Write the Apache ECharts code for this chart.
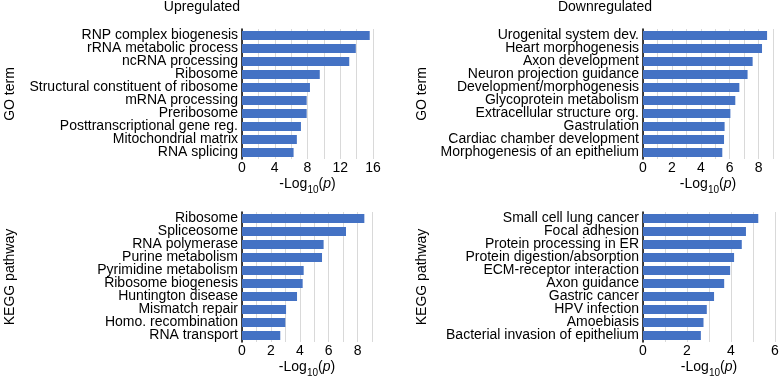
<!DOCTYPE html>
<html>
<head>
<meta charset="utf-8">
<script src="https://cdn.jsdelivr.net/npm/echarts@6/dist/echarts.min.js"></script>
<style>
html, body { margin: 0; padding: 0; background: #fff; }
#main { width: 780px; height: 378px; }
</style>
</head>
<body>
<div id="main"></div>
<script>
// GO terms / KEGG pathways, top row first
var upGoTerms = ['RNP complex biogenesis', 'rRNA metabolic process', 'ncRNA processing', 'Ribosome',
  'Structural constituent of ribosome', 'mRNA processing', 'Preribosome', 'Posttranscriptional gene reg.',
  'Mitochondrial matrix', 'RNA splicing'];
var upGoValues = [15.6, 13.9, 13.1, 9.5, 8.3, 7.9, 7.9, 7.2, 6.7, 6.3];

var downGoTerms = ['Urogenital system dev.', 'Heart morphogenesis', 'Axon development', 'Neuron projection guidance',
  'Development/morphogenesis', 'Glycoprotein metabolism', 'Extracellular structure org.', 'Gastrulation',
  'Cardiac chamber development', 'Morphogenesis of an epithelium'];
var downGoValues = [8.59, 8.24, 7.59, 7.24, 6.67, 6.39, 6.05, 5.65, 5.61, 5.49];

var upKeggTerms = ['Ribosome', 'Spliceosome', 'RNA polymerase', 'Purine metabolism', 'Pyrimidine metabolism',
  'Ribosome biogenesis', 'Huntington disease', 'Mismatch repair', 'Homo. recombination', 'RNA transport'];
var upKeggValues = [8.47, 7.2, 5.65, 5.54, 4.27, 4.2, 3.81, 3.05, 3.0, 2.65];

var downKeggTerms = ['Small cell lung cancer', 'Focal adhesion', 'Protein processing in ER', 'Protein digestion/absorption',
  'ECM-receptor interaction', 'Axon guidance', 'Gastric cancer', 'HPV infection', 'Amoebiasis',
  'Bacterial invasion of epithelium'];
var downKeggValues = [5.24, 4.68, 4.49, 4.14, 3.96, 3.69, 3.23, 2.9, 2.75, 2.63];

var font = 'Liberation Sans, Arial, Helvetica, sans-serif';
var barColor = '#4472c4';
var fs = 14;

var myChart = echarts.init(document.getElementById('main'));

var panels = [
  { left: 242, top: 29, width: 131, max: 16, step: 2, labelStep: 4, name: 'GO term', gap: 225, terms: upGoTerms, values: upGoValues },
  { left: 643, top: 29, width: 130, max: 9, step: 1, labelStep: 2, name: 'GO term', gap: 214, terms: downGoTerms, values: downGoValues },
  { left: 242, top: 212, width: 130, max: 9, step: 1, labelStep: 2, name: 'KEGG pathway', gap: 225, terms: upKeggTerms, values: upKeggValues },
  { left: 643, top: 212, width: 132, max: 6, step: 1, labelStep: 2, name: 'KEGG pathway', gap: 214, terms: downKeggTerms, values: downKeggValues }
];

var grids = [], xAxes = [], yAxes = [], series = [];
panels.forEach(function (p, i) {
  grids.push({ left: p.left, top: p.top, width: p.width, height: 130, outerBoundsMode: 'none' });
  xAxes.push({
    type: 'value', gridIndex: i, min: 0, max: p.max, interval: p.step,
    axisLine: { show: false }, axisTick: { show: false },
    splitLine: { lineStyle: { color: '#d9d9d9', width: 1 } },
    axisLabel: {
      color: '#000', fontSize: fs, fontFamily: font, margin: 2,
      formatter: (function (ls) { return function (v) { return v % ls === 0 ? String(v) : ''; }; })(p.labelStep)
    },
    name: '-Log{sub|10}({it|p})',
    nameLocation: 'middle', nameGap: 16,
    nameTextStyle: {
      color: '#000', fontSize: fs, fontFamily: font, lineHeight: 17,
      rich: {
        sub: { fontSize: 10, fontFamily: font, color: '#000', verticalAlign: 'bottom', lineHeight: 10, padding: [0, 0, -2, 0] },
        it: { fontSize: fs, fontFamily: font, color: '#000', fontStyle: 'italic', lineHeight: 17 }
      }
    }
  });
  yAxes.push({
    type: 'category', gridIndex: i, data: p.terms, inverse: true,
    axisLine: { show: true, lineStyle: { color: '#000', width: 1.5 } },
    axisTick: { show: false },
    axisLabel: { color: '#000', fontSize: fs, fontFamily: font, margin: 4, interval: 0 },
    name: p.name, nameLocation: 'middle', nameGap: p.gap,
    nameTextStyle: { color: '#000', fontSize: fs, fontFamily: font }
  });
  series.push({
    type: 'bar', xAxisIndex: i, yAxisIndex: i, data: p.values,
    barCategoryGap: '32%', itemStyle: { color: barColor },
    silent: true
  });
});

var option = {
  animation: false,
  title: [
    { text: 'Upregulated', left: 202, top: 0, padding: 0, textAlign: 'center',
      textStyle: { fontSize: fs, fontWeight: 'normal', color: '#000', fontFamily: font } },
    { text: 'Downregulated', left: 605, top: 0, padding: 0, textAlign: 'center',
      textStyle: { fontSize: fs, fontWeight: 'normal', color: '#000', fontFamily: font } }
  ],
  grid: grids,
  xAxis: xAxes,
  yAxis: yAxes,
  series: series
};

myChart.setOption(option);
</script>
</body>
</html>
